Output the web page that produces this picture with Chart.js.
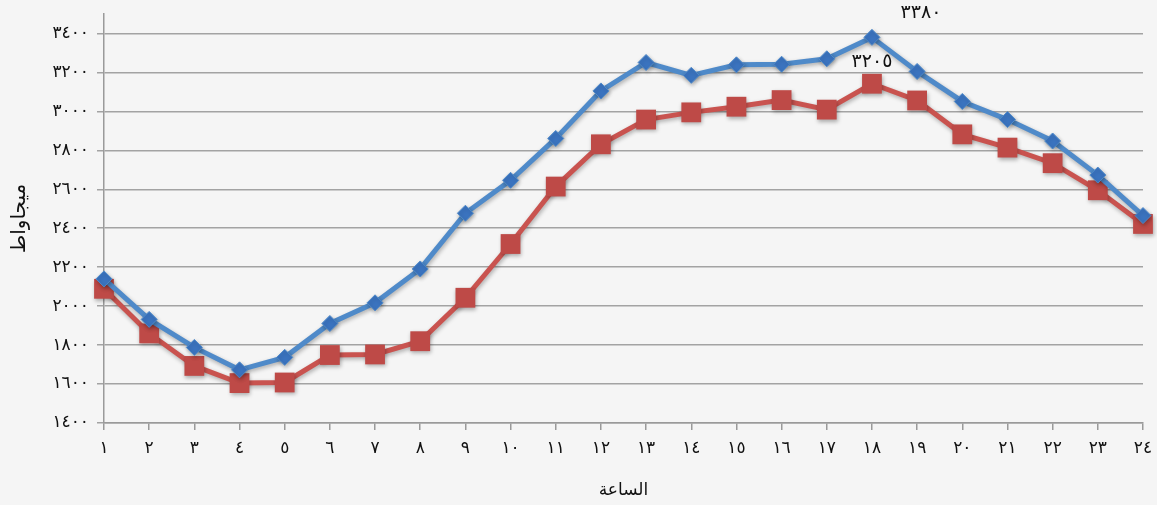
<html><head>
<title>Hourly load</title>
<style>
  body {
    margin: 0;
    padding: 0;
    background-color: #f5f5f5;
  }
  .wrap {
    width: 1157px;
    height: 505px;
    position: relative;
  }
</style>
<script src="https://cdn.jsdelivr.net/npm/chart.js"></script>
</head>
<body>
<div class="wrap">
  <canvas id="loadChart" width="1157" height="505"></canvas>
</div>

<script>
// data
const hours = [1, 2, 3, 4, 5, 6, 7, 8, 9, 10, 11, 12, 13, 14, 15, 16, 17, 18, 19, 20, 21, 22, 23, 24];
const blueLoad = [2140, 1932, 1788, 1673, 1737, 1911, 2017, 2191, 2477, 2646, 2861, 3105, 3251, 3185, 3239, 3242, 3270, 3380, 3205, 3051, 2958, 2848, 2673, 2465];
const redLoad = [2089, 1860, 1693, 1605, 1608, 1749, 1752, 1820, 2043, 2319, 2614, 2831, 2958, 2995, 3024, 3058, 3009, 3142, 3056, 2882, 2814, 2734, 2595, 2422];
const yTicks = [1400, 1600, 1800, 2000, 2200, 2400, 2600, 2800, 3000, 3200, 3400];
const yTitle = 'ميجاواط';
const xTitle = 'الساعة';
// peak annotations as printed on the chart: [dataset, index, text]
const peakLabels = [[0, 17, '3380'], [1, 17, '3205']];

const arDigits = '٠١٢٣٤٥٦٧٨٩';
function toArabic(n) {
  return String(n).replace(/[0-9]/g, d => arDigits[d]);
}

const FONT = "'DejaVu Sans', sans-serif";

// soft shadow under lines and markers
const shadowPlugin = {
  id: 'shadow',
  beforeDatasetDraw(chart) {
    const ctx = chart.ctx;
    ctx.save();
    ctx.shadowColor = 'rgba(0,0,0,0.3)';
    ctx.shadowBlur = 4;
    ctx.shadowOffsetX = 1;
    ctx.shadowOffsetY = 2;
  },
  afterDatasetDraw(chart) {
    chart.ctx.restore();
  }
};

const peakPlugin = {
  id: 'peaks',
  afterDatasetsDraw(chart) {
    const ctx = chart.ctx;
    ctx.save();
    ctx.font = '19px ' + FONT;
    ctx.fillStyle = '#111';
    ctx.textAlign = 'center';
    ctx.textBaseline = 'middle';
    peakLabels.forEach(([ds, i, txt]) => {
      const pt = chart.getDatasetMeta(ds).data[i];
      const dx = ds === 0 ? 49 : 0;
      const dy = ds === 0 ? -24 : -22;
      ctx.fillText(toArabic(txt), pt.x + dx, pt.y + dy);
    });
    ctx.restore();
  }
};

const ctx = document.getElementById('loadChart').getContext('2d');
new Chart(ctx, {
  type: 'line',
  data: {
    labels: hours.map(toArabic),
    datasets: [{
      data: blueLoad,
      borderColor: '#4f8ac9',
      borderWidth: 5,
      pointStyle: 'rectRot',
      pointRadius: 8,
      pointBackgroundColor: '#3b74c0',
      pointBorderColor: '#4f8ac9',
      pointBorderWidth: 1,
      tension: 0
    }, {
      data: redLoad,
      borderColor: '#c9534f',
      borderWidth: 5,
      pointStyle: 'rect',
      pointRadius: 14,
      pointBackgroundColor: '#be4a47',
      pointBorderColor: '#be4a47',
      pointBorderWidth: 0,
      tension: 0
    }]
  },
  options: {
    responsive: false,
    animation: false,
    layout: { padding: { top: 12, right: 0, left: 0, bottom: 0 } },
    plugins: {
      legend: { display: false },
      tooltip: { enabled: false }
    },
    scales: {
      x: {
        offset: false,
        grid: {
          drawOnChartArea: false,
          color: '#9a9a9a',
          lineWidth: 1.5,
          tickLength: 7
        },
        border: { color: '#9a9a9a', width: 1.5 },
        ticks: {
          color: '#111',
          font: { family: FONT, size: 17 },
          maxRotation: 0,
          autoSkip: false,
          padding: 8
        },
        title: {
          display: true,
          text: xTitle,
          color: '#111',
          font: { family: FONT, size: 17 },
          padding: { top: 12 }
        },
        afterFit(scale) {
          scale.height = 82;
          scale.paddingRight = 12;
        }
      },
      y: {
        min: 1400,
        max: 3500,
        ticks: {
          color: '#111',
          font: { family: FONT, size: 17 },
          padding: 8,
          callback: v => toArabic(v)
        },
        afterBuildTicks(scale) {
          scale.ticks = yTicks.map(v => ({ value: v }));
        },
        grid: {
          color: '#a3a3a3',
          lineWidth: 1.5,
          tickLength: 7
        },
        border: { color: '#9a9a9a', width: 1.5 },
        title: {
          display: true,
          text: yTitle,
          color: '#111',
          font: { family: FONT, size: 20 },
          padding: { top: 8, bottom: 8 }
        },
        afterFit(scale) {
          scale.width = 104;
          scale.paddingTop = 0;
          scale.paddingBottom = 0;
        }
      }
    }
  },
  plugins: [shadowPlugin, peakPlugin]
});
</script>
</body></html>
